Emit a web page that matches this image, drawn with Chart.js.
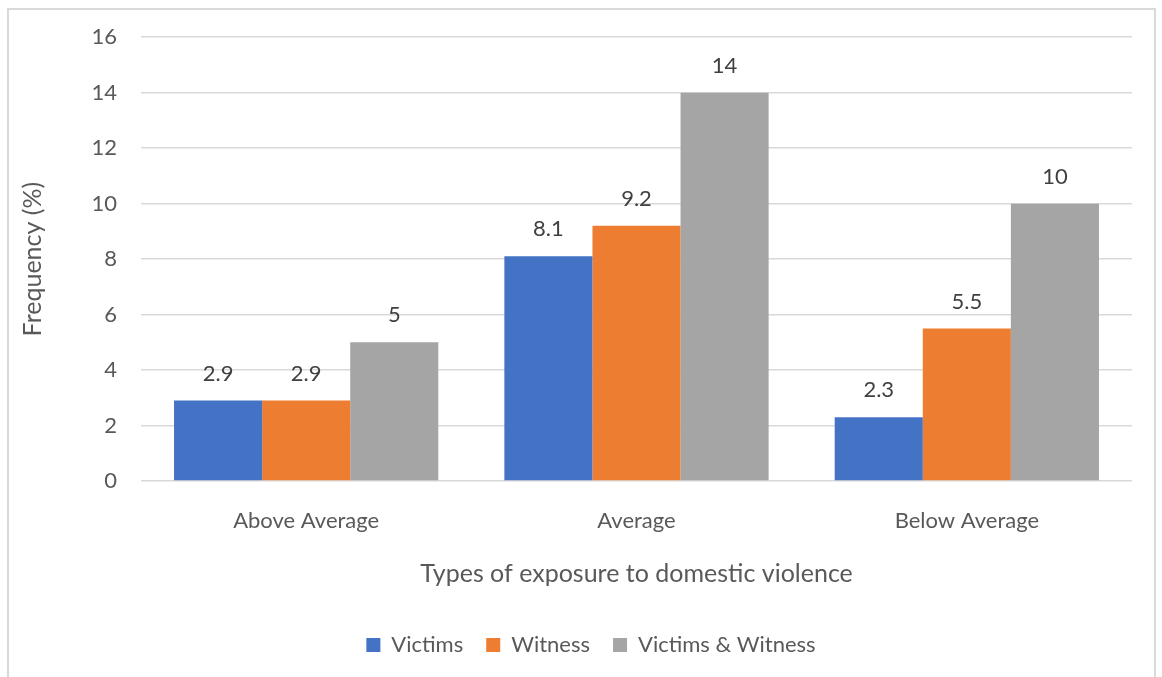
<!DOCTYPE html>
<html>
<head>
<meta charset="utf-8">
<script src="https://cdn.jsdelivr.net/npm/chart.js@4"></script>
<style>
    html, body { margin: 0; padding: 0; background: #fff; }
    #wrap { position: relative; width: 1162px; height: 677px; overflow: hidden; }
    #frame {
        position: absolute; left: 7px; top: 8px; width: 1149px; height: 720px;
        border: 2px solid #d9d9d9; box-sizing: border-box; pointer-events: none;
    }
    canvas { position: absolute; left: 0; top: 0; }
</style>
</head>
<body>
<div id="wrap">
    <canvas id="exposureChart" width="1162" height="677"></canvas>
    <div id="frame"></div>
</div>
<script>
// Frequency (%) by performance group and type of exposure
const categories = ['Above Average', 'Average', 'Below Average'];
const victims = [2.9, 8.1, 2.3];
const witness = [2.9, 9.2, 5.5];
const victimsAndWitness = [5, 14, 10];
const seriesNames = ['Victims', 'Witness', 'Victims & Witness'];
const yTicks = [0, 2, 4, 6, 8, 10, 12, 14, 16];

const FONT = 'Lato, "Open Sans", sans-serif';
const TEXT = '#595959';

// Writes each bar's value just above it
const valueLabels = {
    id: 'valueLabels',
    afterDatasetsDraw(chart) {
        const ctx = chart.ctx;
        ctx.save();
        ctx.font = `22px ${FONT}`;
        ctx.fillStyle = '#404040';
        ctx.textAlign = 'center';
        ctx.textBaseline = 'middle';
        chart.data.datasets.forEach((ds, i) => {
            chart.getDatasetMeta(i).data.forEach((bar, j) => {
                ctx.fillText(String(ds.data[j]), bar.x, bar.y - 27);
            });
        });
        ctx.restore();
    }
};

// Nudges the legend row a little to the right of the canvas centre
const legendShift = {
    id: 'legendShift',
    afterLayout(chart) {
        chart.legend.left += 19;
        chart.legend.right += 19;
    }
};

const ctx = document.getElementById('exposureChart').getContext('2d');
new Chart(ctx, {
    type: 'bar',
    data: {
        labels: categories,
        datasets: [
            { label: seriesNames[0], data: victims, backgroundColor: '#4472C4' },
            { label: seriesNames[1], data: witness, backgroundColor: '#ED7D31' },
            { label: seriesNames[2], data: victimsAndWitness, backgroundColor: '#A5A5A5' }
        ]
    },
    options: {
        responsive: false,
        animation: false,
        datasets: {
            bar: { categoryPercentage: 0.8, barPercentage: 1.0 }
        },
        layout: { padding: { left: 12, right: 30, top: 36, bottom: 11 } },
        plugins: {
            tooltip: { enabled: false },
            legend: {
                position: 'bottom',
                labels: {
                    color: TEXT,
                    font: { family: FONT, size: 22 },
                    boxWidth: 14,
                    boxHeight: 14,
                    padding: 23
                }
            }
        },
        scales: {
            x: {
                grid: { display: false },
                border: { display: false },
                ticks: {
                    color: TEXT,
                    font: { family: FONT, size: 22 },
                    padding: 19
                },
                title: {
                    display: true,
                    text: 'Types of exposure to domestic violence',
                    color: TEXT,
                    font: { family: FONT, size: 25 },
                    padding: { top: 0, bottom: 22 }
                },
                afterFit: (scale) => { scale.height = 130; }
            },
            y: {
                min: 0,
                max: 16,
                afterBuildTicks: (scale) => {
                    scale.ticks = yTicks.map(v => ({ value: v }));
                },
                grid: { color: '#d9d9d9', lineWidth: 1.5, drawTicks: false },
                border: { display: false },
                ticks: {
                    color: TEXT,
                    font: { family: FONT, size: 22 },
                    padding: 24
                },
                title: {
                    display: true,
                    text: 'Frequency (%)',
                    color: TEXT,
                    font: { family: FONT, size: 25 },
                    padding: { top: 6, bottom: 0 }
                },
                afterFit: (scale) => { scale.width = 129; }
            }
        }
    },
    plugins: [valueLabels, legendShift]
});
</script>
</body>
</html>
